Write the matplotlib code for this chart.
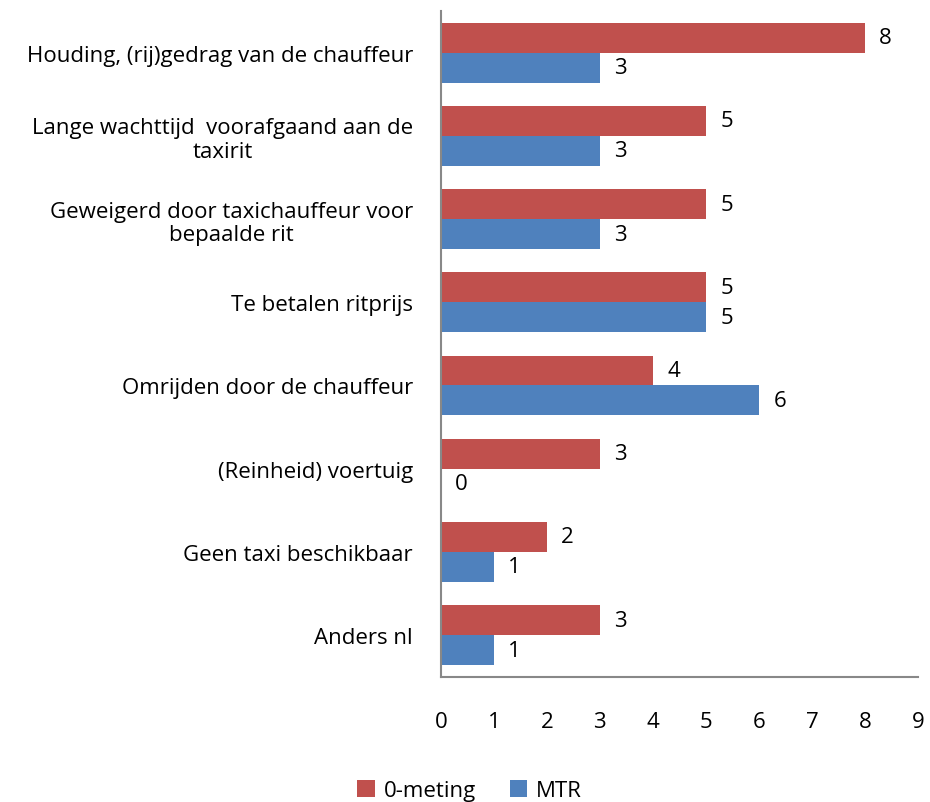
import numpy as np
import matplotlib.pyplot as plt

plt.rcParams['font.family'] = ['Open Sans', 'DejaVu Sans']

categories = [
    "Houding, (rij)gedrag van de chauffeur",
    "Lange wachttijd  voorafgaand aan de\ntaxirit",
    "Geweigerd door taxichauffeur voor\nbepaalde rit",
    "Te betalen ritprijs",
    "Omrijden door de chauffeur",
    "(Reinheid) voertuig",
    "Geen taxi beschikbaar",
    "Anders nl",
]
nulmeting = [8, 5, 5, 5, 4, 3, 2, 3]
mtr = [3, 3, 3, 5, 6, 0, 1, 1]

red = '#C0504D'
blue = '#4F81BD'
fs = 16

fig = plt.figure(figsize=(9.3, 8.03), dpi=100)
ax = fig.add_axes([0.474, 0.156, 0.513, 0.829])

y = np.arange(len(categories))
h = 0.36
b1 = ax.barh(y - h / 2, nulmeting, height=h, color=red, label='0-meting')
b2 = ax.barh(y + h / 2, mtr, height=h, color=blue, label='MTR')

for bars, vals in [(b1, nulmeting), (b2, mtr)]:
    for bar, v in zip(bars, vals):
        ax.annotate(str(v), (v, bar.get_y() + bar.get_height() / 2),
                    xytext=(15, 0), textcoords='offset points',
                    ha='center', va='center', fontsize=fs)

ax.set_ylim(len(categories) - 0.5, -0.5)
ax.set_xlim(0, 9)
ax.set_xticks(range(10))
ax.set_yticks(y)
ax.set_yticklabels(categories, fontsize=fs, multialignment='center',
                   linespacing=1.15)
ax.tick_params(axis='both', length=0, labelsize=fs)
ax.tick_params(axis='y', pad=20)
ax.tick_params(axis='x', pad=25)

for s in ['top', 'right']:
    ax.spines[s].set_visible(False)
ax.spines['left'].set_color('#888888')
ax.spines['left'].set_linewidth(1.5)
ax.spines['bottom'].set_color('#888888')
ax.spines['bottom'].set_linewidth(1.5)

fig.legend(handles=[b1, b2], loc='lower center', bbox_to_anchor=(0.505, -0.024),
           ncol=2, frameon=False, fontsize=fs, handlelength=0.8,
           handleheight=0.8, handletextpad=0.4, columnspacing=1.5)

fig.savefig('out.png', dpi=100)
